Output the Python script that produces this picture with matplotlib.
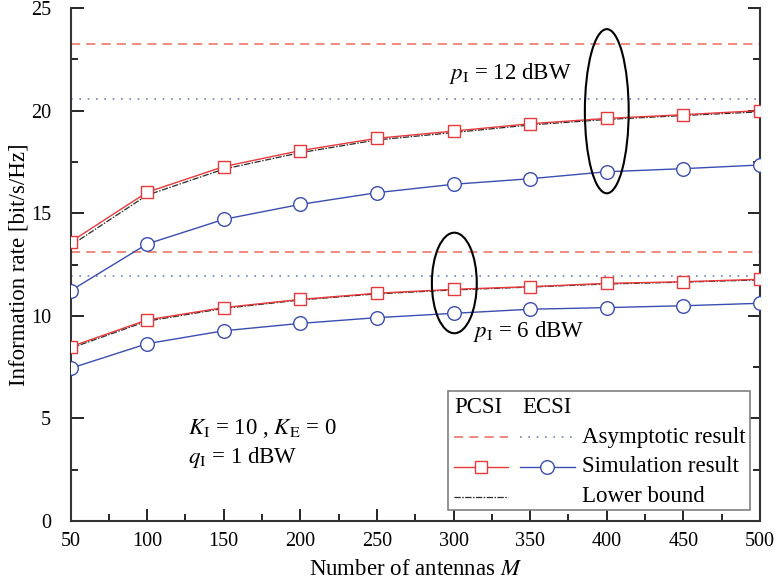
import matplotlib
matplotlib.use("Agg")
import matplotlib.pyplot as plt
from matplotlib.patches import Ellipse, Rectangle
from matplotlib.lines import Line2D
from matplotlib.ticker import MultipleLocator

plt.rcParams['font.family'] = ['Liberation Serif', 'DejaVu Serif']
plt.rcParams['mathtext.fontset'] = 'stix'

M = [50, 100, 150, 200, 250, 300, 350, 400, 450, 500]

# p_I = 12 dBW
asym_pcsi_12 = 23.23
asym_ecsi_12 = 20.56
sim_pcsi_12 = [13.6, 16.02, 17.27, 18.05, 18.65, 19.0, 19.36, 19.62, 19.80, 20.0]
sim_ecsi_12 = [11.22, 13.5, 14.7, 15.43, 16.0, 16.41, 16.68, 17.02, 17.17, 17.35]
lb_pcsi_12 = [13.42, 15.88, 17.15, 17.95, 18.57, 18.93, 19.3, 19.57, 19.76, 19.94]

# p_I = 6 dBW
asym_pcsi_6 = 13.12
asym_ecsi_6 = 11.95
sim_pcsi_6 = [8.49, 9.80, 10.40, 10.80, 11.10, 11.29, 11.42, 11.58, 11.66, 11.78]
sim_ecsi_6 = [7.44, 8.64, 9.27, 9.63, 9.91, 10.12, 10.32, 10.40, 10.49, 10.61]
lb_pcsi_6 = [8.42, 9.74, 10.36, 10.77, 11.07, 11.26, 11.40, 11.55, 11.64, 11.75]

xticks = [50, 100, 150, 200, 250, 300, 350, 400, 450, 500]
yticks = [0, 5, 10, 15, 20, 25]

RED = '#E8383A'
RED_L = '#EE6A5E'
BLUE = '#3A4DB0'
BLUE_L = '#6F7FCC'
LB = '#2A2A2A'

fig = plt.figure(figsize=(7.77, 5.87), dpi=100)
ax = fig.add_axes([70.5/777, 1-521/587, 689.5/777, 513/587])

lb_dash = (5, 1.2, 1.2, 1.2)
# asymptotes
for v in (asym_pcsi_12, asym_pcsi_6):
    ax.axhline(v, color=RED_L, lw=1.1, ls=(0, (6, 4)))
for v in (asym_ecsi_12, asym_ecsi_6):
    ax.axhline(v, color=BLUE_L, lw=1.2, ls=(0, (1, 4)))

for lb in (lb_pcsi_12, lb_pcsi_6):
    ax.plot(M, lb, color=LB, lw=0.9, dashes=lb_dash, zorder=3)
for s in (sim_pcsi_12, sim_pcsi_6):
    ax.plot(M, s, color=RED, lw=1.0, marker='s', ms=8.6, mfc='white',
            mec=RED, mew=1.0, zorder=4)
for s in (sim_ecsi_12, sim_ecsi_6):
    ax.plot(M, s, color=BLUE, lw=1.0, marker='o', ms=9.8, mfc='white',
            mec=BLUE, mew=1.0, zorder=4)

ax.add_patch(Ellipse((400, 19.97), 28.6, 8.0, fill=False, ec='black', lw=1.5, zorder=5))
ax.add_patch(Ellipse((300.5, 11.6), 29.3, 4.9, fill=False, ec='black', lw=1.5, zorder=5))

fs = 16.5
ax.text(297, 21.52, r'$p_{\rm I}$ = 12 dBW', fontsize=fs, va='baseline', ha='left')
ax.text(313, 8.95, r'$p_{\rm I}$ = 6 dBW', fontsize=fs, va='baseline', ha='left')
ax.text(126.5, 4.24, r'$K_{\rm I}$ = 10 , $K_{\rm E}$ = 0', fontsize=fs, va='baseline', ha='left')
ax.text(126.5, 2.84, r'$q_{\rm I}$ = 1 dBW', fontsize=fs, va='baseline', ha='left')

ax.set_xlim(50, 500)
ax.set_ylim(0, 25)
ax.set_xticks(xticks)
ax.set_yticks(yticks)
ax.xaxis.set_minor_locator(MultipleLocator(25))
ax.yaxis.set_minor_locator(MultipleLocator(2.5))
ax.tick_params(which='both', direction='in', right=True, top=False, labelsize=14.5, width=1.2)
ax.tick_params(which='major', length=9)
ax.tick_params(axis='x', which='major', pad=8)
ax.tick_params(axis='y', which='major', pad=14)
ax.tick_params(which='minor', length=5)
for sp in ('left', 'right', 'bottom'):
    ax.spines[sp].set_linewidth(1.5)
    ax.spines[sp].set_color('#333333')
ax.spines['top'].set_visible(False)
ax.set_xlabel(r'Number of antennas $M$', fontsize=16.5, labelpad=6)
ax.set_ylabel('Information rate [bit/s/Hz]', fontsize=16.5, labelpad=1)

# legend box (manual, axes coordinates)
T = ax.transAxes
ax.add_patch(Rectangle((0.548, 0.0214), 0.9855-0.548, 0.2534-0.0214, transform=T,
                       fill=True, fc='white', ec='#808080', lw=1.2, zorder=6))
ax.text(0.5562, 0.2203, 'PCSI', transform=T, fontsize=fs, va='center', ha='left', zorder=7)
ax.text(0.6558, 0.2203, 'ECSI', transform=T, fontsize=fs, va='center', ha='left', zorder=7)
h1 = (0.5562, 0.6345)
h2 = (0.6519, 0.7317)
ya, ys, yl = 0.1637, 0.1053, 0.0468
ax.add_line(Line2D(h1, (ya, ya), transform=T, color=RED_L, lw=1.1, ls=(0, (6, 4)), zorder=7))
ax.add_line(Line2D(h2, (ya, ya), transform=T, color=BLUE_L, lw=1.2, ls=(0, (1, 4)), zorder=7))
ax.add_line(Line2D(h1, (ys, ys), transform=T, color=RED, lw=1.0, zorder=7))
ax.add_line(Line2D([sum(h1)/2], [ys], transform=T, color=RED, marker='s', ms=8.6,
                   mfc='white', mec=RED, ls='none', zorder=8))
ax.add_line(Line2D(h2, (ys, ys), transform=T, color=BLUE, lw=1.0, zorder=7))
ax.add_line(Line2D([sum(h2)/2], [ys], transform=T, color=BLUE, marker='o', ms=9.8,
                   mfc='white', mec=BLUE, ls='none', zorder=8))
ax.add_line(Line2D(h1, (yl, yl), transform=T, color=LB, lw=0.9, dashes=lb_dash, zorder=7))
ax.text(0.7414, ya, 'Asymptotic result', transform=T, fontsize=fs, va='center', ha='left', zorder=7)
ax.text(0.7414, ys, 'Simulation result', transform=T, fontsize=fs, va='center', ha='left', zorder=7)
ax.text(0.7414, yl, 'Lower bound', transform=T, fontsize=fs, va='center', ha='left', zorder=7)

fig.savefig('out.png', dpi=100)
